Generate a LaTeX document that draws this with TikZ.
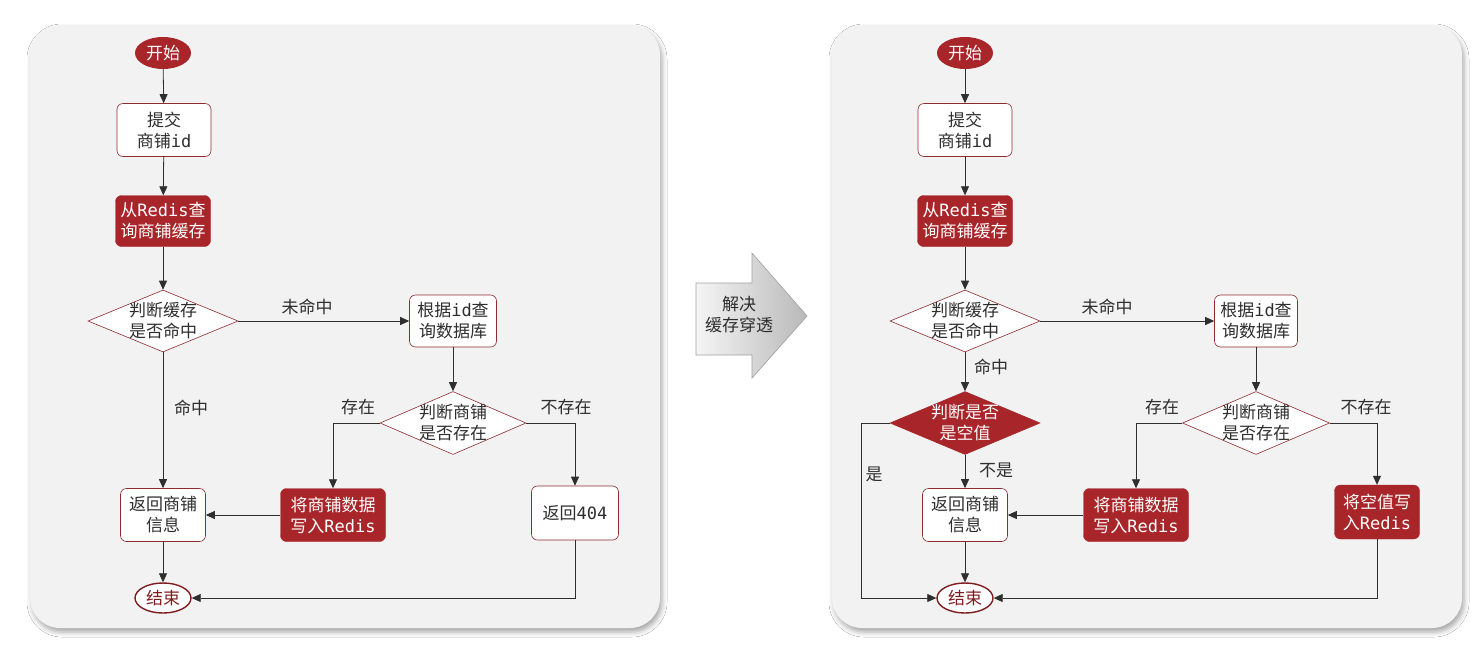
\documentclass[tikz,border=0pt]{standalone}
\usepackage{fontspec}
\usepackage{tikz}
\usetikzlibrary{arrows.meta,shapes.geometric,shadows.blur}
\setmainfont{Noto Sans CJK SC}
\newfontfamily\monofont[Scale=1.0]{DejaVu Sans Mono}
\newcommand{\lat}[1]{{\monofont #1}}
\definecolor{boxred}{HTML}{A8262A}
\definecolor{edgered}{HTML}{8E2B2E}
\definecolor{endred}{HTML}{7E1C1F}
\definecolor{panelgray}{HTML}{F2F2F2}
\definecolor{textgray}{HTML}{2E2E2E}

\begin{document}
\begin{tikzpicture}[x=1pt,y=-1pt,
    every node/.style={font=\fontsize{17}{21}\selectfont, align=center, inner sep=0pt},
    panel/.style={fill=panelgray, rounded corners=30pt,
        blur shadow={shadow xshift=2pt, shadow yshift=-4pt, shadow blur radius=5pt, shadow opacity=35}},
    startnode/.style={ellipse, fill=boxred, text=white, minimum width=56pt, minimum height=32pt},
    endnode/.style={ellipse, draw=endred, line width=1.4pt, fill=white, text=endred, minimum width=56pt, minimum height=30pt},
    whitebox/.style={rectangle, rounded corners=6pt, draw=edgered, line width=0.6pt, fill=white, text=textgray, minimum height=53pt},
    redbox/.style={rectangle, rounded corners=6pt, draw=boxred, fill=boxred, text=white, minimum height=53pt},
    decision/.style={diamond, aspect=2.4, inner sep=-3pt, draw=edgered, line width=0.6pt, fill=white, text=textgray, minimum width=150pt, minimum height=62pt},
    reddecision/.style={decision, draw=boxred, fill=boxred, text=white},
    edgelabel/.style={text=textgray},
    flow/.style={draw=textgray, line width=0.8pt, -{Triangle[length=9pt,width=8pt]}}]
    \useasboundingbox (0,0) rectangle (1478,646);
    \fill [white] (0,0) rectangle (1478,646);

    % panels
    \fill [panel] (30,25) rectangle (660,628);
    \fill [panel] (832,25) rectangle (1462,628);

    % left: before
    \node [startnode] (lstart) at (163,53) {开始};
    \node [whitebox, minimum width=94pt] (lsubmit) at (164,130) {提交\\商铺\lat{id}};
    \node [redbox, minimum width=95pt, minimum height=51pt] (lquery) at (163,221) {从\lat{Redis}查\\询商铺缓存};
    \node [decision] (lhit) at (163,321) {判断缓存\\是否命中};
    \node [whitebox, minimum width=87pt, minimum height=52pt] (ldb) at (453,321) {根据\lat{id}查\\询数据库};
    \node [decision, minimum width=146pt, minimum height=63pt] (lexist) at (453,423) {判断商铺\\是否存在};
    \node [redbox, minimum width=105pt] (lwrite) at (333,515) {将商铺数据\\写入\lat{Redis}};
    \node [whitebox, minimum width=87pt, minimum height=54pt] (l404) at (575,513) {返回\lat{404}};
    \node [whitebox, minimum width=85pt] (lreturn) at (163,515) {返回商铺\\信息};
    \node [endnode] (lend) at (163,598) {结束};

    \draw [flow] (lstart) -- (lsubmit);
    \draw [flow] (lsubmit) -- (lquery);
    \draw [flow] (lquery) -- (lhit);
    \draw [flow] (lhit.east) -- (ldb.west);
    \draw [flow] (ldb) -- (lexist);
    \draw [flow] (lexist.west) -| (lwrite.north);
    \draw [flow] (lexist.east) -| (l404.north);
    \draw [flow] (lhit.south) -- (lreturn.north);
    \draw [flow] (lwrite.west) -- (lreturn.east);
    \draw [flow] (lreturn.south) -- (lend.north);
    \draw [flow] (l404.south) |- (lend.east);

    \node [edgelabel] (lmiss) at (307,307) {未命中};
    \node [edgelabel] (lhitlbl) at (191,408) {命中};
    \node [edgelabel] (lyes) at (358,407) {存在};
    \node [edgelabel] (lno) at (566,407) {不存在};

    % middle arrow
    \shade [left color=gray!8, right color=gray!55, draw=gray!75, line width=0.6pt]
        (696,283) -- (752,283) -- (752,253) -- (807,316) -- (752,378) -- (752,355) -- (696,355) -- cycle;
    \node [text=textgray] (fix) at (739,315) {解决\\缓存穿透};

    % right: after
    \node [startnode] (rstart) at (965,53) {开始};
    \node [whitebox, minimum width=94pt] (rsubmit) at (965,130) {提交\\商铺\lat{id}};
    \node [redbox, minimum width=95pt, minimum height=51pt] (rquery) at (965,221) {从\lat{Redis}查\\询商铺缓存};
    \node [decision] (rhit) at (965,321) {判断缓存\\是否命中};
    \node [whitebox, minimum width=83pt, minimum height=52pt] (rdb) at (1256,321) {根据\lat{id}查\\询数据库};
    \node [decision, minimum width=147pt, minimum height=63pt] (rexist) at (1256,423) {判断商铺\\是否存在};
    \node [reddecision, minimum height=63pt] (rnull) at (965,423) {判断是否\\是空值};
    \node [redbox, minimum width=105pt] (rwrite) at (1136,515) {将商铺数据\\写入\lat{Redis}};
    \node [redbox, minimum width=85pt, minimum height=54pt] (rnullwrite) at (1377,512) {将空值写\\入\lat{Redis}};
    \node [whitebox, minimum width=85pt] (rreturn) at (965,515) {返回商铺\\信息};
    \node [endnode] (rend) at (965,598) {结束};
    \coordinate (ryes) at (861,423);

    \draw [flow] (rstart) -- (rsubmit);
    \draw [flow] (rsubmit) -- (rquery);
    \draw [flow] (rquery) -- (rhit);
    \draw [flow] (rhit.east) -- (rdb.west);
    \draw [flow] (rdb) -- (rexist);
    \draw [flow] (rexist.west) -| (rwrite.north);
    \draw [flow] (rexist.east) -| (rnullwrite.north);
    \draw [flow] (rhit.south) -- (rnull.north);
    \draw [flow] (rnull.south) -- (rreturn.north);
    \draw [flow] (rnull.west) -- (ryes) |- (rend.west);
    \draw [flow] (rwrite.west) -- (rreturn.east);
    \draw [flow] (rreturn.south) -- (rend.north);
    \draw [flow] (rnullwrite.south) |- (rend.east);

    \node [edgelabel] (rmiss) at (1107,307) {未命中};
    \node [edgelabel] (rhitlbl) at (991,367) {命中};
    \node [edgelabel] (ryeslbl) at (1162,407) {存在};
    \node [edgelabel] (rnolbl) at (1366,407) {不存在};
    \node [edgelabel] (rnotnull) at (996,470) {不是};
    \node [edgelabel] (risnull) at (874,474) {是};
\end{tikzpicture}
\end{document}
